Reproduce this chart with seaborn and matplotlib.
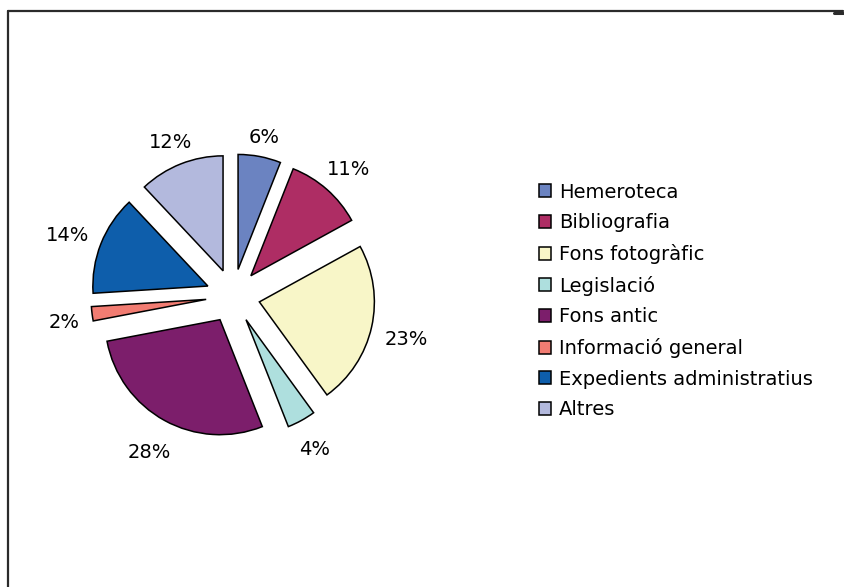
import matplotlib
matplotlib.use("Agg")
import numpy as np
import matplotlib.pyplot as plt
from matplotlib.lines import Line2D
import seaborn as sns

categories = ["Hemeroteca", "Bibliografia", "Fons fotogràfic", "Legislació",
              "Fons antic", "Informació general", "Expedients administratius", "Altres"]
shares = [6, 11, 23, 4, 28, 2, 14, 12]
slice_colors = ["#6B83C1", "#AE2D64", "#F8F6C8", "#AEDFDE",
                "#7C1E6B", "#F27C72", "#0E5EAB", "#B3B9DD"]

sns.set_theme(style="white")
plt.rcParams["font.family"] = ["DejaVu Sans"]
plt.rcParams["text.color"] = "black"

W, H = 845, 587
fig = plt.figure(figsize=(W / 100, H / 100), dpi=100)
fig.patch.set_facecolor("white")

# pie axes: 115 px per data unit, centred at (233, 296) px from top-left
R = 115.0
half = 1.6
side = 2 * half * R
cx, cy = 233, 296
ax = fig.add_axes([(cx - side / 2) / W, (H - cy - side / 2) / H, side / W, side / H])

explode = 0.235
palette = sns.color_palette(slice_colors)
wedges, texts, autotexts = ax.pie(
    shares,
    colors=palette,
    explode=[explode] * len(shares),
    startangle=90,
    counterclock=False,
    radius=1.0,
    autopct="%1.0f%%",
    pctdistance=1.27,
    wedgeprops=dict(edgecolor="black", linewidth=1.1),
    textprops=dict(fontsize=14, color="black"),
)
ax.set_xlim(-half, half)
ax.set_ylim(-half, half)
ax.set_aspect("equal")
ax.axis("off")

# place each percentage just outside its slice's arc, keeping a fixed gap
# between the arc and the nearest side of the text box
fig.canvas.draw()
renderer = fig.canvas.get_renderer()
gap_px = 12.0
drop_px = 5.0
for w, t in zip(wedges, autotexts):
    mid = np.deg2rad((w.theta1 + w.theta2) / 2)
    ux, uy = np.cos(mid), np.sin(mid)
    bb = t.get_window_extent(renderer)
    half_ext = abs(ux) * bb.width / 2 + abs(uy) * bb.height / 2
    d = explode + (R + gap_px + half_ext) / R
    t.set_position((d * ux, d * uy - drop_px / R))

leg = fig.legend(
    wedges, categories,
    loc="upper left",
    bbox_to_anchor=(525 / W, 1 - 169 / H),
    frameon=False,
    fontsize=14,
    handlelength=0.65,
    handleheight=0.65,
    handletextpad=0.4,
    labelspacing=0.6,
    borderpad=0.2,
)
for t in leg.get_texts():
    t.set_color("black")
for h in leg.legend_handles:
    h.set_edgecolor("black")
    h.set_linewidth(1.1)

# outer frame lines
fig.add_artist(Line2D([8 / W, 843 / W], [1 - 11 / H, 1 - 11 / H],
                      transform=fig.transFigure, color="#2b2b2b", linewidth=1.6))
fig.add_artist(Line2D([8 / W, 8 / W], [1 - 11 / H, 0],
                      transform=fig.transFigure, color="#2b2b2b", linewidth=1.6))
fig.add_artist(Line2D([834 / W, 843 / W], [1 - 13 / H, 1 - 13 / H],
                      transform=fig.transFigure, color="#2b2b2b", linewidth=2.2))

fig.savefig("out.png", dpi=100, facecolor="white")
